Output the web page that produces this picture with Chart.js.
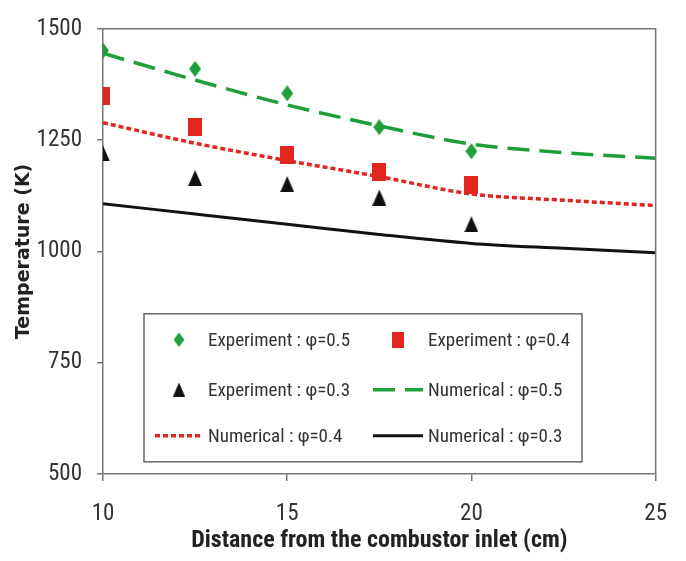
<!DOCTYPE html>
<html>
<head>
<meta charset="utf-8">
<script src="https://cdn.jsdelivr.net/npm/chart.js@4"></script>
<style>
  html, body { margin: 0; padding: 0; background: #fff; }
</style>
</head>
<body>
<canvas id="myChart" width="686" height="561"></canvas>
<script>
// experiment points
const EXP_X = [10, 12.5, 15, 17.5, 20];
const EXP_05 = [1451, 1410, 1355, 1279, 1225];
const EXP_04 = [1348, 1280, 1217, 1178, 1149];
const EXP_03 = [1220, 1165, 1151, 1121, 1061];

// numerical curves
const NUM_X = [10, 12.5, 15, 17.5, 20, 22.5, 25];
const NUM_05 = [1445, 1385, 1329, 1282, 1241, 1222, 1209];
const NUM_04 = [1289, 1243, 1204, 1168, 1129, 1115, 1103];
const NUM_03 = [1107, 1084, 1061, 1038, 1018, 1007, 997];

const X_TICKS = [10, 15, 20, 25];
const Y_TICKS = [500, 750, 1000, 1250, 1500];

const GREEN = '#1f9e3a';
const RED = '#e0261f';
const BLACK = '#111';
const NARROW = '"Roboto Condensed", "Open Sans Condensed", sans-serif';

const toPoints = (xs, ys) => xs.map((x, i) => ({ x: x, y: ys[i] }));

function marker(w, h, color, shape) {
  const c = document.createElement('canvas');
  c.width = w;
  c.height = h;
  const g = c.getContext('2d');
  g.fillStyle = color;
  g.beginPath();
  if (shape === 'diamond') {
    g.moveTo(w / 2, 0); g.lineTo(w, h / 2); g.lineTo(w / 2, h); g.lineTo(0, h / 2);
  } else if (shape === 'triangle') {
    g.moveTo(w / 2, 0); g.lineTo(w, h); g.lineTo(0, h);
  } else {
    g.rect(0, 0, w, h);
  }
  g.closePath();
  g.fill();
  return c;
}

const diamond = marker(12, 16, GREEN, 'diamond');
const square = marker(14, 18, RED, 'square');
const triangle = marker(14, 16, BLACK, 'triangle');

// top and right sides of the plot box
const frame = {
  id: 'frame',
  afterDraw(chart) {
    const { ctx, chartArea: a } = chart;
    ctx.save();
    ctx.strokeStyle = '#777';
    ctx.lineWidth = 1.5;
    ctx.beginPath();
    ctx.moveTo(a.left, a.top);
    ctx.lineTo(a.right, a.top);
    ctx.lineTo(a.right, a.bottom);
    ctx.stroke();
    ctx.restore();
  },
};

// boxed two-column legend inside the plot
const boxLegend = {
  id: 'boxLegend',
  afterDraw(chart) {
    const { ctx, chartArea: a } = chart;
    const x0 = a.left + 41, y0 = a.top + 285, w = 438, h = 148;
    ctx.save();
    ctx.fillStyle = '#fff';
    ctx.fillRect(x0, y0, w, h);
    ctx.strokeStyle = '#666';
    ctx.lineWidth = 1.5;
    ctx.strokeRect(x0, y0, w, h);
    ctx.font = '19px ' + NARROW;
    ctx.textBaseline = 'middle';
    const cols = [
      { mark: 35, text: 64, l1: 11, l2: 59 },
      { mark: 254, text: 284, l1: 229, l2: 279 },
    ];
    const rows = [26, 76, 122];
    chart.data.datasets.forEach((ds, i) => {
      const c = cols[i % 2];
      const ry = y0 + rows[Math.floor(i / 2)];
      if (ds.showLine) {
        ctx.strokeStyle = ds.borderColor;
        ctx.lineWidth = ds.borderWidth;
        ctx.setLineDash(ds.borderDash || []);
        ctx.beginPath();
        ctx.moveTo(x0 + c.l1, ry);
        ctx.lineTo(x0 + c.l2, ry);
        ctx.stroke();
        ctx.setLineDash([]);
      } else {
        const img = ds.pointStyle;
        const mw = img.width * 0.9, mh = img.height * 0.9;
        ctx.drawImage(img, x0 + c.mark - mw / 2, ry - mh / 2, mw, mh);
      }
      ctx.fillStyle = '#333';
      ctx.fillText(ds.label, x0 + c.text, ry + 1);
    });
    ctx.restore();
  },
};

const ctx = document.getElementById('myChart').getContext('2d');
const myChart = new Chart(ctx, {
  type: 'scatter',
  data: {
    datasets: [
      {
        label: 'Experiment : φ=0.5',
        data: toPoints(EXP_X, EXP_05),
        pointStyle: diamond,
        showLine: false,
      },
      {
        label: 'Experiment : φ=0.4',
        data: toPoints(EXP_X, EXP_04),
        pointStyle: square,
        showLine: false,
      },
      {
        label: 'Experiment : φ=0.3',
        data: toPoints(EXP_X, EXP_03),
        pointStyle: triangle,
        showLine: false,
      },
      {
        label: 'Numerical : φ=0.5',
        data: toPoints(NUM_X, NUM_05),
        showLine: true,
        borderColor: GREEN,
        borderWidth: 3.5,
        borderDash: [22, 10],
        pointRadius: 0,
        cubicInterpolationMode: 'monotone',
      },
      {
        label: 'Numerical : φ=0.4',
        data: toPoints(NUM_X, NUM_04),
        showLine: true,
        borderColor: RED,
        borderWidth: 3.5,
        borderDash: [5, 3],
        pointRadius: 0,
        cubicInterpolationMode: 'monotone',
      },
      {
        label: 'Numerical : φ=0.3',
        data: toPoints(NUM_X, NUM_03),
        showLine: true,
        borderColor: BLACK,
        borderWidth: 3,
        pointRadius: 0,
        cubicInterpolationMode: 'monotone',
      },
    ],
  },
  options: {
    responsive: false,
    animation: false,
    layout: { padding: { top: 21, right: 30, left: 0, bottom: 0 } },
    plugins: {
      legend: { display: false },
      tooltip: { enabled: false },
    },
    scales: {
      x: {
        type: 'linear',
        min: 10,
        max: 25,
        afterFit: (scale) => { scale.height = 87; },
        afterBuildTicks: (scale) => { scale.ticks = X_TICKS.map((v) => ({ value: v })); },
        grid: { drawOnChartArea: false, tickLength: 7, color: '#777', lineWidth: 1.5 },
        border: { color: '#777', width: 1.5 },
        ticks: {
          padding: 19,
          color: '#333',
          font: { family: NARROW, size: 23 },
          callback: (v) => String(v),
        },
        title: {
          display: true,
          text: 'Distance from the combustor inlet (cm)',
          color: '#222',
          font: { family: NARROW, size: 24, weight: 'bold' },
          padding: { top: 0, bottom: 6 },
        },
      },
      y: {
        min: 500,
        max: 1500,
        afterFit: (scale) => { scale.width = 103; },
        afterBuildTicks: (scale) => { scale.ticks = Y_TICKS.map((v) => ({ value: v })); },
        grid: { drawOnChartArea: false, tickLength: 6, color: '#777', lineWidth: 1.5 },
        border: { color: '#777', width: 1.5 },
        ticks: {
          padding: 15,
          color: '#333',
          font: { family: NARROW, size: 23 },
          callback: (v) => String(v),
        },
        title: {
          display: true,
          text: 'Temperature (K)',
          color: '#222',
          font: { family: '"DejaVu Sans", sans-serif', size: 19, weight: 'bold' },
          padding: { top: 13, bottom: 0 },
        },
      },
    },
  },
  plugins: [frame, boxLegend],
});
</script>
</body>
</html>
